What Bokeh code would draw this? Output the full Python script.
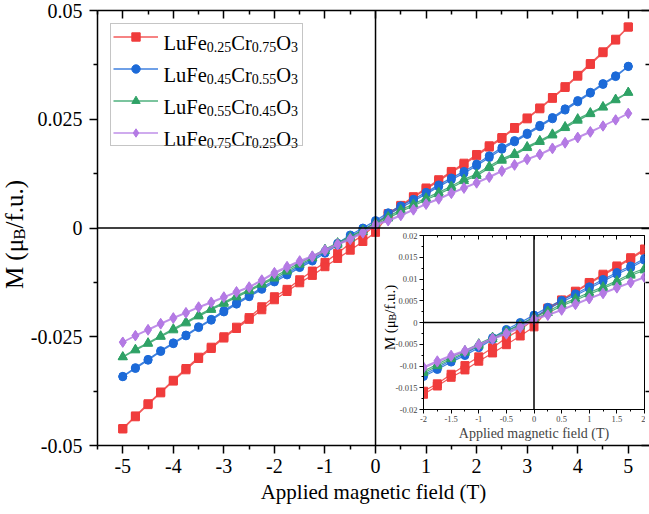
import math
from bokeh.plotting import figure
from bokeh.models import Range1d, FixedTicker, LinearAxis, Span, Legend, LegendItem, Label
from bokeh.embed import file_html
from bokeh.resources import INLINE

# ---------------- data ----------------
fields = [-5.0, -4.75, -4.5, -4.25, -4.0, -3.75, -3.5, -3.25, -3.0, -2.75, -2.5, -2.25, -2.0,
          -1.75, -1.5, -1.25, -1.0, -0.75, -0.5, -0.25, 0.0, 0.25, 0.5, 0.75, 1.0, 1.25, 1.5,
          1.75, 2.0, 2.25, 2.5, 2.75, 3.0, 3.25, 3.5, 3.75, 4.0, 4.25, 4.5, 4.75, 5.0]

red_desc = [-0.0461, -0.0432, -0.0404, -0.0377, -0.0350, -0.0323, -0.0297, -0.0274, -0.0250, -0.0228,
            -0.0206, -0.0181, -0.0158, -0.0141, -0.0119, -0.0099, -0.0079, -0.0058, -0.0035, -0.0017,
            0.0007, 0.0033, 0.0052, 0.0072, 0.0092, 0.0111, 0.0130, 0.0149, 0.0169, 0.0189,
            0.0208, 0.0231, 0.0253, 0.0276, 0.0300, 0.0325, 0.0351, 0.0378, 0.0405, 0.0434, 0.0462]
red_asc = [-0.0462, -0.0434, -0.0406, -0.0379, -0.0352, -0.0326, -0.0300, -0.0277, -0.0253, -0.0231,
           -0.0210, -0.0188, -0.0165, -0.0146, -0.0126, -0.0109, -0.0089, -0.0070, -0.0051, -0.0031,
           -0.0010, 0.0030, 0.0050, 0.0070, 0.0089, 0.0108, 0.0127, 0.0146, 0.0166, 0.0186,
           0.0206, 0.0229, 0.0251, 0.0274, 0.0298, 0.0323, 0.0349, 0.0376, 0.0403, 0.0432, 0.0462]

blue_desc = [-0.0341, -0.0321, -0.0302, -0.0282, -0.0264, -0.0246, -0.0227, -0.0210, -0.0190, -0.0172,
             -0.0155, -0.0137, -0.0120, -0.0104, -0.0087, -0.0072, -0.0054, -0.0035, -0.0016, 0.0000,
             0.0017, 0.0035, 0.0051, 0.0066, 0.0082, 0.0099, 0.0115, 0.0130, 0.0147, 0.0166,
             0.0185, 0.0201, 0.0218, 0.0236, 0.0254, 0.0274, 0.0293, 0.0312, 0.0332, 0.0350, 0.0372]
blue_asc = [-0.0342, -0.0323, -0.0304, -0.0284, -0.0266, -0.0248, -0.0229, -0.0212, -0.0193, -0.0175,
            -0.0158, -0.0141, -0.0124, -0.0108, -0.0091, -0.0076, -0.0058, -0.0039, -0.0020, -0.0004,
            0.0012, 0.0031, 0.0047, 0.0062, 0.0078, 0.0095, 0.0111, 0.0126, 0.0143, 0.0162,
            0.0181, 0.0198, 0.0215, 0.0233, 0.0251, 0.0271, 0.0290, 0.0310, 0.0330, 0.0348, 0.0371]

green_desc = [-0.0296, -0.0279, -0.0264, -0.0248, -0.0232, -0.0216, -0.0200, -0.0185, -0.0171, -0.0156,
              -0.0142, -0.0127, -0.0112, -0.0096, -0.0080, -0.0065, -0.0049, -0.0034, -0.0020, -0.0005,
              0.0012, 0.0026, 0.0042, 0.0055, 0.0069, 0.0082, 0.0096, 0.0112, 0.0124, 0.0142,
              0.0159, 0.0171, 0.0187, 0.0201, 0.0216, 0.0233, 0.0251, 0.0265, 0.0279, 0.0296, 0.0312]
green_asc = [-0.0297, -0.0281, -0.0266, -0.0250, -0.0235, -0.0219, -0.0203, -0.0188, -0.0174, -0.0159,
             -0.0145, -0.0130, -0.0116, -0.0100, -0.0084, -0.0069, -0.0053, -0.0038, -0.0024, -0.0009,
             0.0008, 0.0022, 0.0038, 0.0051, 0.0065, 0.0078, 0.0092, 0.0108, 0.0120, 0.0138,
             0.0155, 0.0168, 0.0184, 0.0198, 0.0213, 0.0230, 0.0247, 0.0262, 0.0277, 0.0294, 0.0311]

purple_desc = [-0.0262, -0.0247, -0.0233, -0.0219, -0.0206, -0.0194, -0.0181, -0.0170, -0.0158, -0.0146,
               -0.0135, -0.0119, -0.0102, -0.0088, -0.0075, -0.0064, -0.0050, -0.0036, -0.0024, -0.0009,
               0.0009, 0.0018, 0.0030, 0.0043, 0.0056, 0.0068, 0.0081, 0.0093, 0.0105, 0.0118,
               0.0132, 0.0146, 0.0159, 0.0170, 0.0184, 0.0197, 0.0209, 0.0222, 0.0235, 0.0249, 0.0264]
purple_asc = [-0.0263, -0.0248, -0.0235, -0.0221, -0.0208, -0.0196, -0.0183, -0.0172, -0.0160, -0.0148,
              -0.0137, -0.0121, -0.0105, -0.0091, -0.0078, -0.0067, -0.0053, -0.0039, -0.0027, -0.0012,
              0.0006, 0.0016, 0.0028, 0.0041, 0.0054, 0.0066, 0.0079, 0.0091, 0.0103, 0.0116,
              0.0130, 0.0144, 0.0157, 0.0168, 0.0182, 0.0195, 0.0207, 0.0220, 0.0234, 0.0248, 0.0263]

label_red = ["LuFe", "0.25", "Cr", "0.75", "O", "3"]
label_blue = ["LuFe", "0.45", "Cr", "0.55", "O", "3"]
label_green = ["LuFe", "0.55", "Cr", "0.45", "O", "3"]
label_purple = ["LuFe", "0.75", "Cr", "0.25", "O", "3"]

main_x_ticks = [-5, -4, -3, -2, -1, 0, 1, 2, 3, 4, 5]
main_x_labels = ["-5", "-4", "-3", "-2", "-1", "0", "1", "2", "3", "4", "5"]
main_x_minor = [-5.5, -4.5, -3.5, -2.5, -1.5, -0.5, 0.5, 1.5, 2.5, 3.5, 4.5]
main_y_ticks = [-0.05, -0.025, 0.0, 0.025, 0.05]
main_y_minor = [-0.0375, -0.0125, 0.0125, 0.0375]
main_y_labels = ["-0.05", "-0.025", "0", "0.025", "0.05"]

inset_x_ticks = [-2, -1.5, -1, -0.5, 0, 0.5, 1, 1.5, 2]
inset_x_minor = [-1.75, -1.25, -0.75, -0.25, 0.25, 0.75, 1.25, 1.75]
inset_x_labels = ["-2", "-1.5", "-1", "-0.5", "0", "0.5", "1", "1.5", "2"]
inset_y_ticks = [-0.02, -0.015, -0.01, -0.005, 0.0, 0.005, 0.01, 0.015, 0.02]
inset_y_minor = [-0.0175, -0.0125, -0.0075, -0.0025, 0.0025, 0.0075, 0.0125, 0.0175]
inset_y_labels = ["-0.02", "-0.015", "-0.01", "-0.005", "0", "0.005", "0.01", "0.015", "0.02"]

y_title_pieces = [("M (\u03bc", False), ("B", True), ("/f.u.)", False)]
x_title = "Applied magnetic field (T)"

FONT = "Liberation Serif"
series = [
    (red_desc, red_asc, "#f03c3c", "square", 8, label_red),
    (blue_desc, blue_asc, "#1c6ad8", "circle", 8, label_blue),
    (green_desc, green_asc, "#2fa266", "triangle", 9, label_green),
    (purple_desc, purple_asc, "#b47ae4", "diamond", 10, label_purple),
]

W = {"L": .611, "u": .5, "F": .556, "e": .444, "C": .667, "r": .333, "O": .722, ".": .25,
     "M": .889, " ": .25, "(": .333, ")": .333, "\u03bc": .5, "B": .667, "/": .278, "f": .333}


def tw(s, size):
    return sum(W.get(c, .5) for c in s) * size


def loop_xy(desc, asc):
    xs = list(reversed(fields)) + list(fields)
    ys = list(reversed(desc)) + list(asc)
    return xs, ys


def style_axis(ax, tick_in, tick_out, minor_in, minor_out, lw):
    ax.axis_line_color = "black"
    ax.axis_line_width = lw
    ax.major_tick_line_color = "black"
    ax.major_tick_line_width = lw
    ax.minor_tick_line_color = "black"
    ax.minor_tick_line_width = lw
    ax.major_tick_in = tick_in
    ax.major_tick_out = tick_out
    ax.minor_tick_in = minor_in
    ax.minor_tick_out = minor_out


def hide_labels(ax):
    ax.major_label_text_color = None
    ax.major_label_text_font_size = "1px"
    ax.major_label_standoff = 0


def text_label(fig, x, y, s, size, angle=0):
    fig.add_layout(Label(x=x, y=y, x_units="screen", y_units="screen", text=s,
                         angle=angle, angle_units="deg", text_font=FONT,
                         text_font_size=f"{size}px", text_color="black",
                         text_align="left", text_baseline="alphabetic", level="overlay"))


# ---------------- main figure ----------------
p = figure(width=649, height=514, output_backend="svg", toolbar_location=None,
           x_range=Range1d(-5.5, 5.42), y_range=Range1d(-0.05, 0.05),
           min_border_left=97, min_border_top=10, min_border_right=0, min_border_bottom=69)
p.outline_line_color = None
p.xgrid.visible = False
p.ygrid.visible = False

xt = FixedTicker(ticks=main_x_ticks, minor_ticks=main_x_minor)
yt = FixedTicker(ticks=main_y_ticks, minor_ticks=main_y_minor)

xa = p.xaxis[0]
xa.ticker = xt
style_axis(xa, 0, 8, 0, 4, 1.5)
xa.major_label_overrides = {v: s for v, s in zip(main_x_ticks, main_x_labels)}
xa.major_label_text_font = FONT
xa.major_label_text_font_size = "20px"
xa.major_label_text_color = "black"
xa.major_label_standoff = 5
xa.axis_label = x_title
xa.axis_label_text_font = FONT
xa.axis_label_text_font_size = "21px"
xa.axis_label_text_font_style = "normal"
xa.axis_label_text_color = "black"
xa.axis_label_standoff = 4

ya = p.yaxis[0]
ya.ticker = yt
style_axis(ya, 0, 8, 0, 4, 1.5)
ya.major_label_overrides = {v: s for v, s in zip(main_y_ticks, main_y_labels)}
ya.major_label_text_font = FONT
ya.major_label_text_font_size = "20px"
ya.major_label_text_color = "black"
ya.major_label_standoff = 7

top = LinearAxis(ticker=xt)
style_axis(top, 8, 0, 4, 0, 1.5)
hide_labels(top)
p.add_layout(top, "above")

right = LinearAxis(ticker=yt)
style_axis(right, 8, 0, 4, 0, 1.5)
right.axis_line_color = None
hide_labels(right)
p.add_layout(right, "right")

p.add_layout(Span(location=0, dimension="height", line_color="black", line_width=1.5))
p.add_layout(Span(location=0, dimension="width", line_color="black", line_width=1.5))

items = []
for desc, asc, col, mk, sz, lab in series:
    xs, ys = loop_xy(desc, asc)
    lr = p.line(xs, ys, line_color=col, line_width=1.3, line_alpha=0.85)
    sr = p.scatter(xs, ys, marker=mk, size=sz, fill_color=col, line_color=col)
    items.append(LegendItem(label="".join(lab), renderers=[lr, sr]))

leg = Legend(items=items, location="top_left", margin=13, padding=2, spacing=11,
             glyph_width=45, glyph_height=21, label_height=21, label_width=135,
             label_standoff=7, label_text_color=None, label_text_font_size="13px",
             border_line_color="#8c8c8c", border_line_width=1, background_fill_alpha=0.0)
p.add_layout(leg)

FRAME_L, FRAME_B = 97, 445
for i, (_, _, _, _, _, lab) in enumerate(series):
    cy = 10 + 13 + 2 + 10.5 + 32 * i
    x = 97 + 13 + 2 + 45 + 6
    for j, s in enumerate(lab):
        sub = (j % 2 == 1)
        size = 14 if sub else 20.5
        yb = cy + 7 + (4 if sub else 0)
        text_label(p, x - FRAME_L, FRAME_B - yb, s, size)
        x += tw(s, size)


# ---------------- rotated y titles (separate transparent overlay figures) ----------------
def title_figure(left, top, w, h, cx, cy, big, small, sub_shift):
    f = figure(width=w, height=h, output_backend="svg", toolbar_location=None,
               x_range=Range1d(0, w), y_range=Range1d(0, h), x_axis_type=None, y_axis_type=None,
               min_border=0, min_border_left=0, min_border_right=0, min_border_top=0,
               min_border_bottom=0)
    f.outline_line_color = None
    f.background_fill_alpha = 0
    f.border_fill_alpha = 0
    f.xgrid.visible = False
    f.ygrid.visible = False
    f.styles = {"position": "absolute", "left": f"{left}px", "top": f"{top}px"}
    total = sum(tw(s, small if sub else big) for s, sub in y_title_pieces)
    y = cy + total / 2.0
    for s, sub in y_title_pieces:
        size = small if sub else big
        bx = cx + (sub_shift if sub else 0)
        text_label(f, bx - left, (top + h) - y, s, size, angle=90)
        y -= tw(s, size)
    return f


ytitle_main = title_figure(0, 100, 40, 270, 14, 234, 25, 17, 5)

# ---------------- inset ----------------
IL, IT = 383, 231
inset = figure(width=262, height=212, output_backend="svg", toolbar_location=None,
               x_range=Range1d(-2, 2), y_range=Range1d(-0.02, 0.02),
               min_border_left=40, min_border_right=1, min_border_top=4, min_border_bottom=31)
inset.styles = {"position": "absolute", "left": f"{IL}px", "top": f"{IT}px"}
inset.outline_line_color = "black"
inset.outline_line_width = 1
inset.xgrid.visible = False
inset.ygrid.visible = False
ixt = FixedTicker(ticks=inset_x_ticks, minor_ticks=inset_x_minor)
iyt = FixedTicker(ticks=inset_y_ticks, minor_ticks=inset_y_minor)

ixa = inset.xaxis[0]
ixa.ticker = ixt
style_axis(ixa, 0, 4, 0, 2, 1)
ixa.major_label_overrides = {v: s for v, s in zip(inset_x_ticks, inset_x_labels)}
ixa.major_label_text_font = FONT
ixa.major_label_text_font_size = "8.5px"
ixa.major_label_standoff = 2
ixa.axis_label = x_title
ixa.axis_label_text_font = FONT
ixa.axis_label_text_font_size = "14px"
ixa.axis_label_text_font_style = "normal"
ixa.axis_label_standoff = 1

iya = inset.yaxis[0]
iya.ticker = iyt
style_axis(iya, 0, 4, 0, 2, 1)
iya.major_label_overrides = {v: s for v, s in zip(inset_y_ticks, inset_y_labels)}
iya.major_label_text_font = FONT
iya.major_label_text_font_size = "8.5px"
iya.major_label_standoff = 2

itop = LinearAxis(ticker=ixt)
style_axis(itop, 4, 0, 2, 0, 1)
hide_labels(itop)
inset.add_layout(itop, "above")

inset.add_layout(Span(location=0, dimension="height", line_color="black", line_width=1.5))
inset.add_layout(Span(location=0, dimension="width", line_color="black", line_width=1.5))

for desc, asc, col, mk, sz, lab in series:
    xs, ys = loop_xy(desc, asc)
    inset.line(xs, ys, line_color=col, line_width=1.2, line_alpha=0.85)
    inset.scatter(xs, ys, marker=mk, size=sz, fill_color=col, line_color=col)

ytitle_inset = title_figure(372, 250, 32, 140, 389, 317, 15, 10.5, 3)

with open("out.html", "w") as f:
    f.write(file_html([p, ytitle_main, inset, ytitle_inset], INLINE))
